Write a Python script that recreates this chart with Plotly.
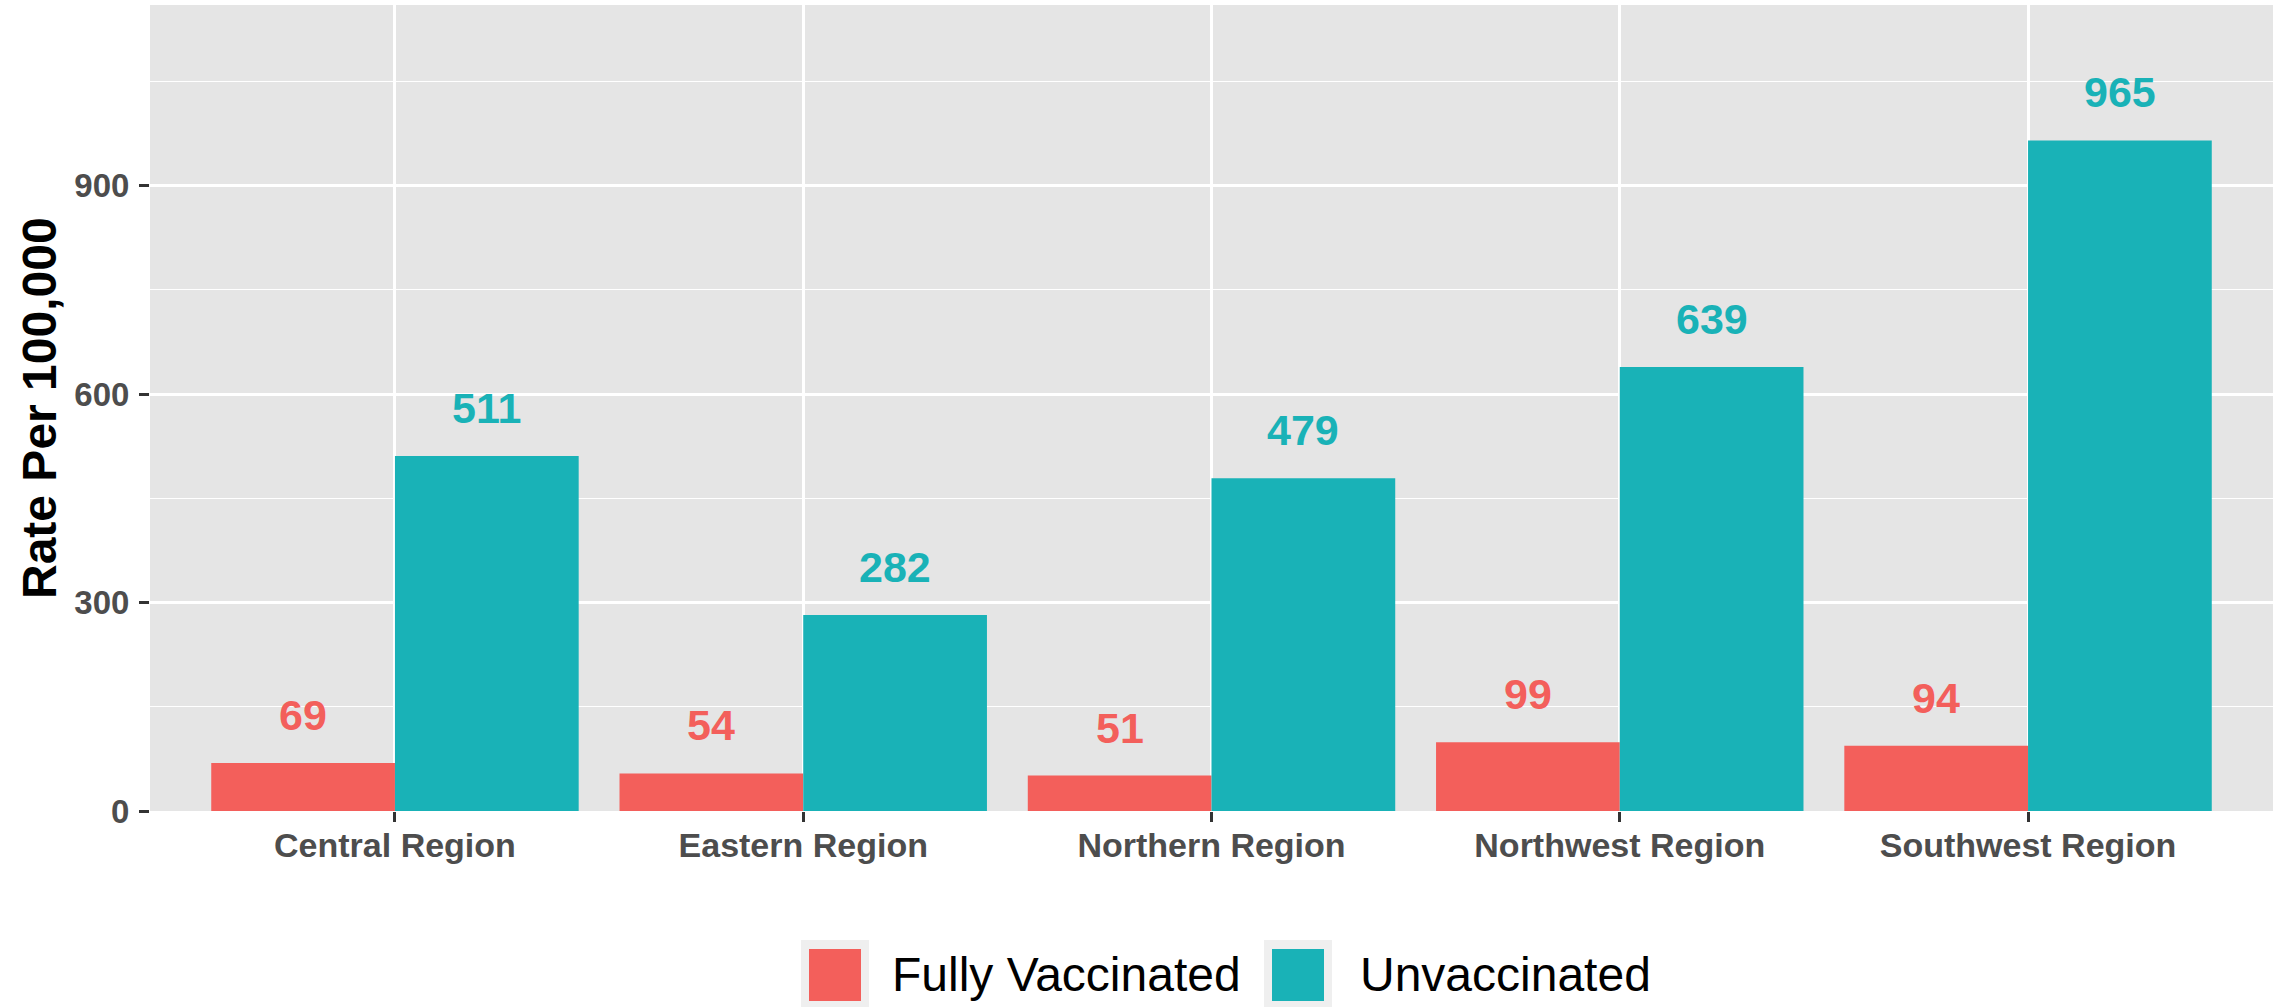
import plotly.graph_objects as go

# data
regions = ["Central Region", "Eastern Region", "Northern Region", "Northwest Region", "Southwest Region"]
fully_vaccinated = [69, 54, 51, 99, 94]
unvaccinated = [511, 282, 479, 639, 965]
series_names = ["Fully Vaccinated", "Unvaccinated"]
y_ticks = [0, 300, 600, 900]

RED = "#F35F5B"
TEAL = "#19B2B7"
FONT = "Liberation Sans, Arial, Helvetica, sans-serif"

W, H = 2281, 1007
L, R, T, B = 150, 8, 5, 196
pw, ph = W - L - R, H - T - B


def px(x):
    return (x - L) / pw


def py(y):
    return (H - B - y) / ph


fig = go.Figure()
fig.add_trace(go.Bar(x=regions, y=fully_vaccinated, name=series_names[0],
                     marker=dict(color=RED, line=dict(width=0)), showlegend=False))
fig.add_trace(go.Bar(x=regions, y=unvaccinated, name=series_names[1],
                     marker=dict(color=TEAL, line=dict(width=0)), showlegend=False))

# value labels above the bars
annotations = []
for vals, off, col in [(fully_vaccinated, -0.225, RED), (unvaccinated, 0.225, TEAL)]:
    for i, v in enumerate(vals):
        annotations.append(dict(x=i + off, y=v, xref="x", yref="y", text=str(v),
                                showarrow=False, yanchor="bottom", yshift=22,
                                font=dict(family=FONT, size=43, color=col, weight="bold")))

# y axis title
annotations.append(dict(x=px(39), y=0.5, xref="paper", yref="paper", text="Rate Per 100,000",
                        showarrow=False, textangle=-90, xanchor="center", yanchor="middle",
                        font=dict(family=FONT, size=48, color="black", weight="bold")))

# legend drawn by hand so the keys can be large
shapes = []
legend_items = [(series_names[0], RED, 801, 890), (series_names[1], TEAL, 1264, 1358)]
for name, col, kx, tx in legend_items:
    shapes.append(dict(type="rect", xref="paper", yref="paper", x0=px(kx), x1=px(kx + 68),
                       y0=py(940), y1=py(1008), fillcolor="#EFEFEF", line=dict(width=0)))
    shapes.append(dict(type="rect", xref="paper", yref="paper", x0=px(kx + 8), x1=px(kx + 60),
                       y0=py(949), y1=py(1001), fillcolor=col, line=dict(width=0)))
    annotations.append(dict(x=px(tx), y=py(974), xref="paper", yref="paper", text=name,
                            showarrow=False, xanchor="left", yanchor="middle",
                            font=dict(family=FONT, size=48, color="black")))

fig.update_layout(
    width=W, height=H,
    margin=dict(l=L, r=R, t=T, b=B),
    paper_bgcolor="white",
    plot_bgcolor="#E5E5E5",
    barmode="group", bargap=0.1, bargroupgap=0,
    showlegend=False,
    annotations=annotations,
    shapes=shapes,
    font=dict(family=FONT),
)
fig.update_xaxes(
    range=[-0.6, 4.6], showgrid=True, gridcolor="white", gridwidth=2.5,
    ticks="outside", ticklen=10, tickwidth=2.5, tickcolor="#333333",
    tickfont=dict(family=FONT, size=34, color="#4D4D4D", weight="bold"),
    ticklabelstandoff=-6, showline=False, zeroline=False,
)
fig.update_yaxes(
    range=[0, 1160], tickvals=y_ticks, showgrid=True, gridcolor="white", gridwidth=2.5,
    minor=dict(tickvals=[150, 450, 750, 1050], showgrid=True, gridcolor="white", gridwidth=1.3, ticks=""),
    ticks="outside", ticklen=10, tickwidth=2.5, tickcolor="#333333",
    tickfont=dict(family=FONT, size=33, color="#4D4D4D", weight="bold"),
    ticklabelstandoff=3, showline=False, zeroline=False,
)

fig.write_html("out.html", config={"displayModeBar": False},
               post_script="document.body.style.margin='0';")
